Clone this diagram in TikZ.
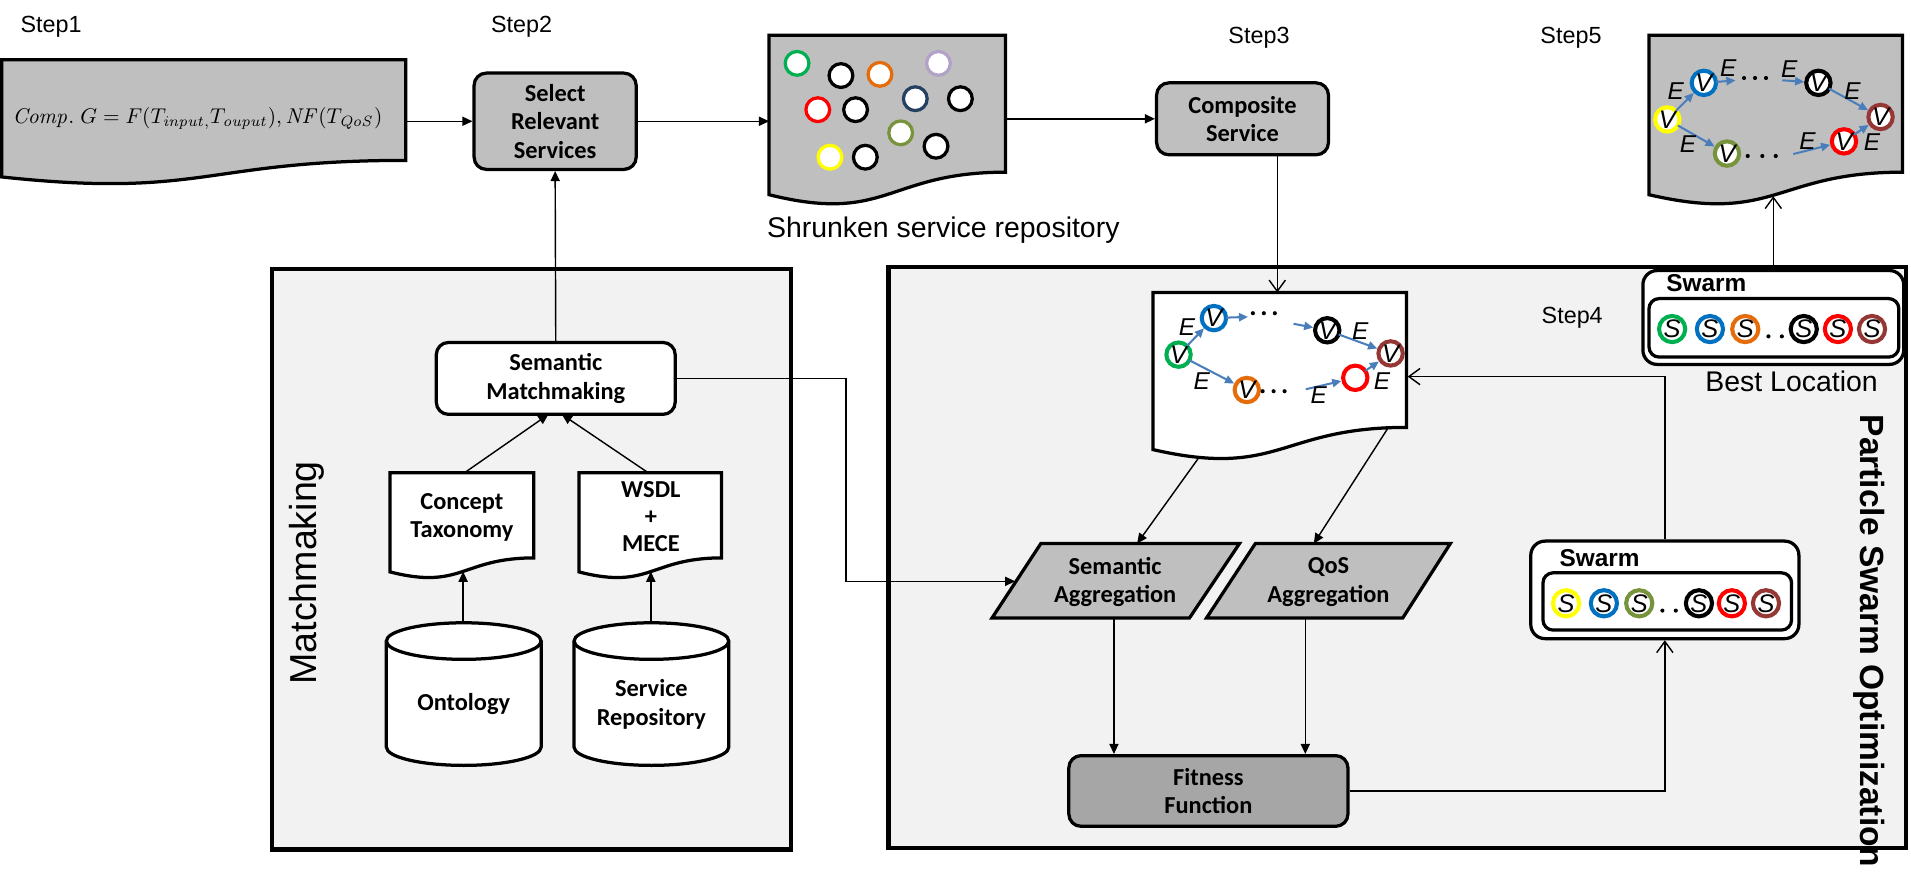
\RequirePackage{fix-cm}
\documentclass[tikz,border=0pt]{standalone}
\usepackage[no-math]{fontspec}
\setmainfont{Liberation Sans}
\newfontfamily\calib{Carlito}
\usetikzlibrary{arrows.meta}
\definecolor{boxgray}{HTML}{BFBFBF}
\definecolor{fitgray}{HTML}{A6A6A6}
\definecolor{panelgray}{HTML}{F2F2F2}
\definecolor{cgreen}{HTML}{00B050}
\definecolor{cblue}{HTML}{0070C0}
\definecolor{corange}{HTML}{E46C0A}
\definecolor{clav}{HTML}{B3A2C7}
\definecolor{cnavy}{HTML}{254061}
\definecolor{cred}{HTML}{FF0000}
\definecolor{colive}{HTML}{77933C}
\definecolor{cyellow}{HTML}{FFFF00}
\definecolor{cbrown}{HTML}{953735}
\definecolor{garrowc}{HTML}{4A7EBB}
\def\U{0.6pt}
\newcommand\docshape[5]{%
  \pgfmathsetmacro\dsxr{#1+#3}%
  \pgfmathsetmacro\dsyr{#2+0.802*#4}%
  \pgfmathsetmacro\dsxm{#1+0.5*#3}%
  \pgfmathsetmacro\dsyc{#2+1.107*#4}%
  \pgfmathsetmacro\dsyl{#2+0.934*#4}%
  \path[#5] (#1,#2) -- (\dsxr,#2) -- (\dsxr,\dsyr) .. controls (\dsxm,\dsyr) and (\dsxm,\dsyc) .. (#1,\dsyl) -- cycle;}
\begin{document}
\begin{tikzpicture}[x=0.6pt,y=-0.6pt,
  panel/.style={draw, line width=2pt, fill=panelgray},
  docg/.style={draw, line width=1.6pt, fill=boxgray},
  docw/.style={draw, line width=1.6pt, fill=white},
  boxtxt/.style={font=\calib\bfseries\fontsize{12}{14}\selectfont, align=center, inner sep=0pt},
  gbox/.style={boxtxt, draw, line width=1.6pt, rounded corners=6pt, fill=boxgray},
  steplab/.style={font=\fontsize{11.5}{11.5}\selectfont, inner sep=0pt},
  biglab/.style={font=\fontsize{14}{14}\selectfont, inner sep=0pt},
  farrow/.style={line width=0.7pt, -{Triangle[length=5pt,width=4.5pt]}},
  oarrow/.style={line width=0.7pt, -{Straight Barb[length=5.5pt,width=8pt]}},
  garr/.style={draw=garrowc, line width=1pt, -{Triangle[length=4.5pt,width=4pt]}, shorten <=-1pt},
  rc/.style={circle, draw=#1, line width=1.6pt, fill=white, minimum size=19.5*\U, inner sep=0pt},
  vc/.style={circle, draw=#1, line width=2pt, fill=white, minimum size=20*\U, inner sep=-2pt, font=\itshape\fontsize{12.5}{12.5}\selectfont},
  sc/.style={circle, draw=#1, line width=2pt, fill=white, minimum size=21.5*\U, inner sep=-2pt, font=\itshape\fontsize{12.5}{12.5}\selectfont},
  elab/.style={font=\itshape\fontsize{12}{12}\selectfont, inner sep=0pt},
  swtitle/.style={font=\bfseries\fontsize{12}{12}\selectfont, inner sep=0pt},
  dot/.style={fill=black}
]
\fill[white] (0,0) rectangle (1568,727);
\useasboundingbox (0,0) rectangle (1568,727);

% panels
\path[panel] (223,221) rectangle (649,697);
\path[panel] (729,219) rectangle (1564,696);
\node[rotate=90, font=\fontsize{18.5}{18.5}\selectfont, inner sep=0pt] (mmlab) at (252,470) {Matchmaking};
\node[rotate=-90, font=\bfseries\fontsize{16.5}{16.5}\selectfont, inner sep=0pt] (psolab) at (1534,526) {Particle Swarm Optimization};

% step labels
\node[steplab] (st1) at (42,22) {Step1};
\node[steplab] (st2) at (428,22) {Step2};
\node[steplab] (st3) at (1033,31) {Step3};
\node[steplab] (st5) at (1289,31) {Step5};
\node[steplab] (st4) at (1290,261) {Step4};

% Step1 document
\docshape{1.5}{49}{331.5}{103}{docg}
\node[inner sep=0pt, font=\fontsize{11}{11}\selectfont] (goal) at (162,97) {\scalebox{0.955}{$\mathit{Comp}.\;G=F(T_{\mathit{input},}T_{\mathit{ouput}}),\mathit{NF}(T_{\mathit{QoS}})$}};
\coordinate (d1e) at (333,99.5);

% Select relevant services
\node[gbox, minimum width=133*\U, minimum height=79*\U] (sel) at (455.5,99.5) {Select\\Relevant\\Services};

% Shrunken repository
\docshape{631}{29}{194}{140}{docg}
\coordinate (repoW) at (631,99.5);
\coordinate (repoE) at (825,97.5);
\node[rc=cgreen] (r1) at (654,52) {};
\node[rc=black] (r2) at (690,62) {};
\node[rc=corange] (r3) at (722,61) {};
\node[rc=clav] (r4) at (770,52) {};
\node[rc=cnavy] (r5) at (751,81) {};
\node[rc=black] (r6) at (788,81) {};
\node[rc=cred] (r7) at (671,90) {};
\node[rc=black] (r8) at (702,90) {};
\node[rc=colive] (r9) at (739,109) {};
\node[rc=black] (r10) at (768,120) {};
\node[rc=cyellow] (r11) at (681,129) {};
\node[rc=black] (r12) at (710,129) {};
\node[biglab] (shrunk) at (774,189) {Shrunken service repository};

% Composite service
\node[gbox, minimum width=141*\U, minimum height=59*\U] (comp) at (1019.5,97.5) {Composite\\Service};

% Step5 document
\docshape{1353}{29}{208}{140}{docg}
\coordinate (s5bot) at (1455,161);
\node[vc=cyellow] (fa) at (1368,98) {V};
\node[vc=cblue] (fb) at (1398,68) {V};
\node[vc=black] (fc) at (1492,68) {V};
\node[vc=cbrown] (fd) at (1543,96) {V};
\node[vc=cred] (fe) at (1513,116) {V};
\node[vc=colive] (ff) at (1417,126) {V};
\coordinate (fb1) at (1424,66);
\coordinate (fc0) at (1464,66);
\coordinate (fe0) at (1473,126);
\draw[garr] (fa) -- (fb);
\draw[garr] (fb) -- (fb1);
\draw[garr] (fc0) -- (fc);
\draw[garr] (fc) -- (fd);
\draw[garr] (fa) -- (ff);
\draw[garr] (fe0) -- (fe);
\draw[garr] (fe) -- (fd);
\node[elab] (fe1) at (1375,75) {E};
\node[elab] (fe2) at (1418,56) {E};
\node[elab] (fe3) at (1468,57) {E};
\node[elab] (fe4) at (1520,75) {E};
\node[elab] (fe5) at (1385,118) {E};
\node[elab] (fe6) at (1483,116) {E};
\node[elab] (fe7) at (1536,117) {E};
\foreach \xx in {1431,1440,1449} \fill[dot] (\xx,64) circle[radius=1.7];
\foreach \xx in {1434,1446,1457} \fill[dot] (\xx,128) circle[radius=1.7];

% Matchmaking panel content
\node[boxtxt, draw, line width=1.6pt, rounded corners=6pt, fill=white, minimum width=196*\U, minimum height=59*\U] (semmm) at (456,310.5) {Semantic\\Matchmaking};
\docshape{320}{388}{118}{87}{docw}
\docshape{475}{388}{117}{87}{docw}
\node[boxtxt] (ctax) at (379,424.5) {Concept\\Taxonomy};
\node[boxtxt, font=\calib\bfseries\fontsize{12}{13.3}\selectfont] (wsdl) at (534,424) {WSDL\\+\\MECE};
\coordinate (ctTop) at (381,388);
\coordinate (wsTop) at (532,388);
\coordinate (ctBot) at (380,469);
\coordinate (wsBot) at (534,469);
\coordinate (mmIn1) at (450,340);
\coordinate (mmIn2) at (461,340);
% cylinders
\path[docw] (317,526) -- (317,613) arc[start angle=180,end angle=0,x radius=63.5,y radius=15] -- (444,526) arc[start angle=0,end angle=-180,x radius=63.5,y radius=15] -- cycle;
\draw[line width=1.6pt] (317,526) arc[start angle=180,end angle=0,x radius=63.5,y radius=15];
\path[docw] (471,526) -- (471,613) arc[start angle=180,end angle=0,x radius=63.5,y radius=15] -- (598,526) arc[start angle=0,end angle=-180,x radius=63.5,y radius=15] -- cycle;
\draw[line width=1.6pt] (471,526) arc[start angle=180,end angle=0,x radius=63.5,y radius=15];
\node[boxtxt] (onto) at (380.5,578) {Ontology};
\node[boxtxt] (srepo) at (534.5,578) {Service\\Repository};
\coordinate (ontoTop) at (380,511);
\coordinate (srTop) at (534,511);

% Step4 graph document
\docshape{946}{240}{208}{138}{docw}
\coordinate (gtop) at (1048,240);
\coordinate (gBL) at (984,375);
\coordinate (gBR) at (1139,351);
\coordinate (gR) at (1155,309);
\node[vc=cgreen] (ga) at (967,291) {V};
\node[vc=cblue] (gb) at (996,261) {V};
\node[vc=corange] (gc) at (1023,320) {V};
\node[vc=black] (gd) at (1089,271) {V};
\node[vc=cbrown] (ge) at (1141,290) {V};
\node[vc=cred] (gf) at (1112,310) {};
\coordinate (gb1) at (1024,260);
\coordinate (gd0) at (1063,266);
\coordinate (gf0) at (1073,319);
\draw[garr] (ga) -- (gb);
\draw[garr] (gb) -- (gb1);
\draw[garr] (gd0) -- (gd);
\draw[garr] (gd) -- (ge);
\draw[garr] (ga) -- (gc);
\draw[garr] (gf0) -- (gf);
\draw[garr] (gf) -- (ge);
\node[elab] (ge1) at (974,268) {E};
\node[elab] (ge2) at (986,313) {E};
\node[elab] (ge3) at (1116,272) {E};
\node[elab] (ge4) at (1082,324) {E};
\node[elab] (ge5) at (1134,313) {E};
\foreach \xx in {1028,1037,1046} \fill[dot] (\xx,257) circle[radius=1.7];
\foreach \xx in {1036,1045,1054} \fill[dot] (\xx,321) circle[radius=1.7];

% aggregations
\path[docg] (854,446) -- (1017,446) -- (976,507) -- (814,507) -- cycle;
\path[docg] (1030,446) -- (1190,446) -- (1151,507) -- (990,507) -- cycle;
\node[boxtxt] (semagg) at (915,477.5) {Semantic\\Aggregation};
\node[boxtxt] (qosagg) at (1090,477.5) {QoS\\Aggregation};
\coordinate (saW) at (833,477);
\coordinate (saBend) at (694,477);
\coordinate (saTop) at (933,446);
\coordinate (qaTop) at (1078,446);
\coordinate (saBot) at (914,507);
\coordinate (qaBot) at (1071,507);

% fitness
\node[gbox, fill=fitgray, minimum width=229*\U, minimum height=58*\U] (fit) at (991.5,649) {Fitness\\Function};

% swarms
\node[draw, line width=1.6pt, rounded corners=7pt, fill=white, minimum width=214*\U, minimum height=77*\U, inner sep=0pt] (sw1) at (1455,260.5) {};
\node[draw, line width=1.6pt, rounded corners=5pt, fill=white, minimum width=205*\U, minimum height=48*\U, inner sep=0pt] (sw1in) at (1455.5,269) {};
\node[swtitle] (sw1t) at (1400,232) {Swarm};
\node[sc=cgreen] (p1) at (1372,270) {S};
\node[sc=cblue] (p2) at (1403,270) {S};
\node[sc=corange] (p3) at (1432,270) {S};
\node[sc=black] (p4) at (1480,270) {S};
\node[sc=cred] (p5) at (1508,270) {S};
\node[sc=cbrown] (p6) at (1536,270) {S};
\foreach \xx in {1451,1462} \fill[dot] (\xx,276) circle[radius=1.7];
\node[biglab] (best) at (1470,313) {Best Location};

\node[draw, line width=1.6pt, rounded corners=7pt, fill=white, minimum width=220*\U, minimum height=80*\U, inner sep=0pt] (sw2) at (1366,484) {};
\node[draw, line width=1.6pt, rounded corners=5pt, fill=white, minimum width=204*\U, minimum height=47*\U, inner sep=0pt] (sw2in) at (1368,493.5) {};
\node[swtitle] (sw2t) at (1312.5,458) {Swarm};
\node[sc=cyellow] (q1) at (1285,495) {S};
\node[sc=cblue] (q2) at (1316,495) {S};
\node[sc=colive] (q3) at (1345,495) {S};
\node[sc=black] (q4) at (1394,495) {S};
\node[sc=cred] (q5) at (1421,495) {S};
\node[sc=cbrown] (q6) at (1449,495) {S};
\foreach \xx in {1364,1375} \fill[dot] (\xx,501) circle[radius=1.7];

% connectors
\draw[farrow] (d1e) -- (sel.west);
\draw[farrow] (sel.east) -- (repoW);
\draw[farrow] (repoE) -- (comp.west);
\draw[oarrow] (gtop |- comp.south) -- (gtop);
\draw[farrow] (semmm.north) -- (sel.south);
\draw[farrow] (ctTop) -- (mmIn1);
\draw[farrow] (wsTop) -- (mmIn2);
\draw[farrow] (ontoTop) -- (ctBot);
\draw[farrow] (srTop) -- (wsBot);
\draw[farrow] (semmm.east) -| (saBend) -- (saW);
\draw[farrow] (gBL) -- (saTop);
\draw[farrow] (gBR) -- (qaTop);
\draw[farrow] (saBot) -- (saBot |- fit.north);
\draw[farrow] (qaBot) -- (qaBot |- fit.north);
\draw[oarrow] (fit.east) -| (sw2.south);
\draw[oarrow] (sw2.north) |- (gR);
\draw[oarrow] (sw1.north) -- (s5bot);
\end{tikzpicture}
\end{document}
